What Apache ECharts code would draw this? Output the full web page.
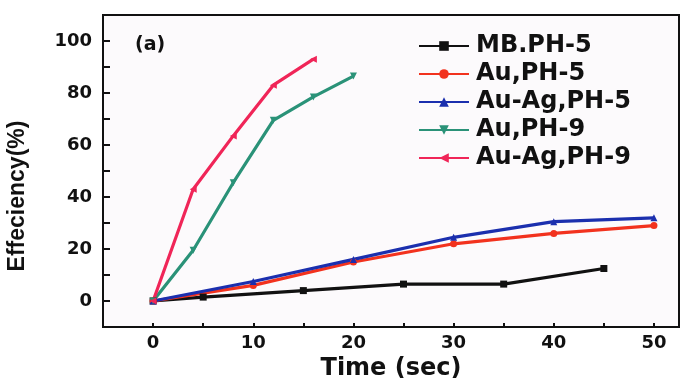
<!DOCTYPE html>
<html>
<head>
<meta charset="utf-8">
<script src="https://cdn.jsdelivr.net/npm/echarts@6/dist/echarts.min.js"></script>
<style>
html, body { margin: 0; padding: 0; background: #fff; }
#main { width: 687px; height: 378px; }
</style>
</head>
<body>
<div id="main"></div>
<script>
// data
var seriesNames = ['MB.PH-5', 'Au,PH-5', 'Au-Ag,PH-5', 'Au,PH-9', 'Au-Ag,PH-9'];

var mbTime = [0, 5, 15, 25, 35, 45];
var mbEff = [0, 1.5, 4, 6.5, 6.5, 12.5];

var auPh5Time = [0, 10, 20, 30, 40, 50];
var auPh5Eff = [0, 6, 15, 22, 26, 29];

var auAgPh5Time = [0, 10, 20, 30, 40, 50];
var auAgPh5Eff = [0, 7.5, 16, 24.5, 30.5, 32];

var auPh9Time = [0, 4, 8, 12, 16, 20];
var auPh9Eff = [0, 19.5, 45.5, 69.5, 78.5, 86.5];

var auAgPh9Time = [0, 4, 8, 12, 16];
var auAgPh9Eff = [0, 43, 63.5, 83, 93];

var xLabels = [0, 10, 20, 30, 40, 50];
var yLabels = [0, 20, 40, 60, 80, 100];

var pairs = function (xs, ys) {
  return xs.map(function (x, i) { return [x, ys[i]]; });
};

var mk = function (name, xs, ys, color, symbol, rotate) {
  return {
    name: name,
    type: 'line',
    data: pairs(xs, ys),
    symbol: symbol,
    symbolSize: 7,
    symbolRotate: rotate || 0,
    lineStyle: { color: color, width: 3.2 },
    itemStyle: { color: color },
    z: 3
  };
};

var myChart = echarts.init(document.getElementById('main'));
myChart.setOption({
  animation: false,
  backgroundColor: '#ffffff',
  grid: {
    left: 103,
    right: 8,
    top: 15,
    bottom: 51,
    outerBoundsMode: 'none',
    containLabel: false,
    show: true,
    backgroundColor: '#fcfafc',
    borderColor: '#111',
    borderWidth: 2
  },
  title: {
    text: '(a)',
    left: 130,
    top: 31,
    textStyle: { fontFamily: 'DejaVu Sans', fontWeight: 'bold', fontSize: 19, color: '#111' }
  },
  legend: {
    orient: 'vertical',
    left: 413,
    top: 29,
    itemWidth: 50,
    itemHeight: 12,
    itemGap: 4,
    data: seriesNames,
    textStyle: { fontFamily: 'DejaVu Sans', fontWeight: 'bold', fontSize: 24, color: '#111', padding: [0, 0, 0, 2] }
  },
  xAxis: {
    type: 'value',
    min: -5,
    max: 52.5,
    interval: 5,
    name: 'Time (sec)',
    nameLocation: 'middle',
    nameGap: 24,
    nameTextStyle: { fontFamily: 'DejaVu Sans', fontWeight: 'bold', fontSize: 24, color: '#111' },
    axisLine: { onZero: false, lineStyle: { color: '#111', width: 2 } },
    axisTick: { inside: true, length: 4, lineStyle: { color: '#111', width: 2 } },
    splitLine: { show: false },
    axisLabel: {
      fontFamily: 'DejaVu Sans',
      fontWeight: 'bold',
      fontSize: 18,
      color: '#111',
      margin: 7,
      showMinLabel: false,
      showMaxLabel: false,
      formatter: function (v) { return xLabels.indexOf(v) >= 0 ? String(v) : ''; }
    }
  },
  yAxis: {
    type: 'value',
    min: -10,
    max: 110,
    interval: 10,
    name: 'Effeciency(%)',
    nameLocation: 'middle',
    nameGap: 74,
    nameTextStyle: { fontFamily: 'Liberation Sans', fontWeight: 'bold', fontSize: 23, color: '#111', padding: [0, 50, 0, 0] },
    axisLine: { onZero: false, lineStyle: { color: '#111', width: 2 } },
    axisTick: { inside: true, length: 7, lineStyle: { color: '#111', width: 2 } },
    splitLine: { show: false },
    axisLabel: {
      fontFamily: 'DejaVu Sans',
      fontWeight: 'bold',
      fontSize: 18,
      color: '#111',
      margin: 11,
      formatter: function (v) { return yLabels.indexOf(v) >= 0 ? String(v) : ''; }
    }
  },
  series: [
    mk(seriesNames[0], mbTime, mbEff, '#111111', 'rect'),
    mk(seriesNames[1], auPh5Time, auPh5Eff, '#f2321e', 'circle'),
    mk(seriesNames[2], auAgPh5Time, auAgPh5Eff, '#1b2fae', 'triangle'),
    mk(seriesNames[3], auPh9Time, auPh9Eff, '#2a9278', 'triangle', 180),
    mk(seriesNames[4], auAgPh9Time, auAgPh9Eff, '#f02558', 'triangle', 90)
  ]
});
</script>
</body>
</html>
